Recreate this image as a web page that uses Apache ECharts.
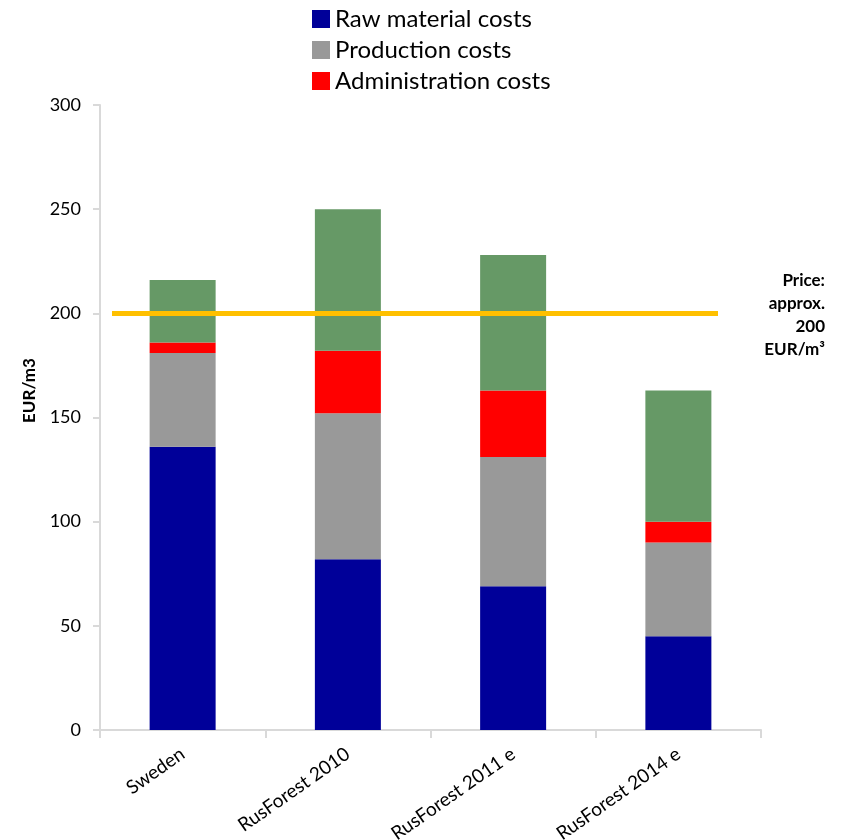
<!DOCTYPE html>
<html>
<head>
<meta charset="utf-8">
<script src="https://cdn.jsdelivr.net/npm/echarts@6/dist/echarts.min.js"></script>
<style>
  html, body { margin: 0; padding: 0; background: #fff; }
  #chart { width: 844px; height: 840px; }
</style>
</head>
<body>
<div id="chart"></div>
<script>
(() => {
  "use strict";
  const categories = ["Sweden", "RusForest 2010", "RusForest 2011 e", "RusForest 2014 e"];
  const rawMaterial = [136, 82, 69, 45];
  const production = [45, 70, 62, 45];
  const administration = [5, 30, 32, 10];
  const margin = [30, 68, 65, 63];
  const priceLevel = 200;
  const yTicks = { min: 0, max: 300, interval: 50 };

  const FONT = "Lato, 'Open Sans', sans-serif";
  const AXIS = "#d9d9d9";
  const chart = echarts.init(document.getElementById("chart"));

  const bar = (name, data, color) => ({
    name, type: "bar", stack: "cost", data, barWidth: 66,
    itemStyle: { color }, emphasis: { disabled: true },
  });

  chart.setOption({
    animation: false,
    textStyle: { fontFamily: FONT },
    legend: {
      data: ["Raw material costs", "Production costs", "Administration costs"],
      orient: "vertical", left: 307, top: 2, itemGap: 7,
      itemWidth: 18, itemHeight: 18, icon: "rect",
      textStyle: { fontSize: 24, color: "#000", fontFamily: FONT, lineHeight: 24 },
    },
    grid: { left: 100, right: 83, top: 105, bottom: 110, outerBoundsMode: "none", containLabel: false },
    xAxis: {
      type: "category", data: categories,
      axisLine: { lineStyle: { color: AXIS, width: 2 } },
      axisTick: { show: true, length: 8, lineStyle: { color: AXIS, width: 2 } },
      axisLabel: { rotate: 35, fontSize: 19, color: "#000", margin: 22, interval: 0 },
    },
    yAxis: {
      type: "value", ...yTicks,
      name: "EUR/m3", nameLocation: "middle", nameGap: 62,
      nameTextStyle: { fontSize: 17, fontWeight: "bold", color: "#000", padding: [0, 0, 0, 54] },
      axisLine: { show: true, lineStyle: { color: AXIS, width: 2 } },
      axisTick: { show: true, length: 7, lineStyle: { color: AXIS, width: 2 } },
      axisLabel: { fontSize: 18, color: "#000", margin: 19 },
      splitLine: { show: false },
    },
    series: [
      bar("Raw material costs", rawMaterial, "#000099"),
      bar("Production costs", production, "#999999"),
      bar("Administration costs", administration, "#ff0000"),
      Object.assign(bar("Margin", margin, "#669966"), {
        markLine: {
          silent: true, symbol: "none", label: { show: false },
          lineStyle: { color: "#ffc000", width: 5, type: "solid" },
          data: [[{ x: 112, yAxis: priceLevel }, { x: 718, yAxis: priceLevel }]],
        },
      }),
    ],
    graphic: [{
      type: "text", x: 825, y: 269,
      style: {
        text: "Price:\napprox.\n" + priceLevel + "\nEUR/m³",
        align: "right", font: "bold 17px " + FONT, fill: "#000", lineHeight: 23,
      },
    }],
  });
})();
</script>
</body>
</html>
